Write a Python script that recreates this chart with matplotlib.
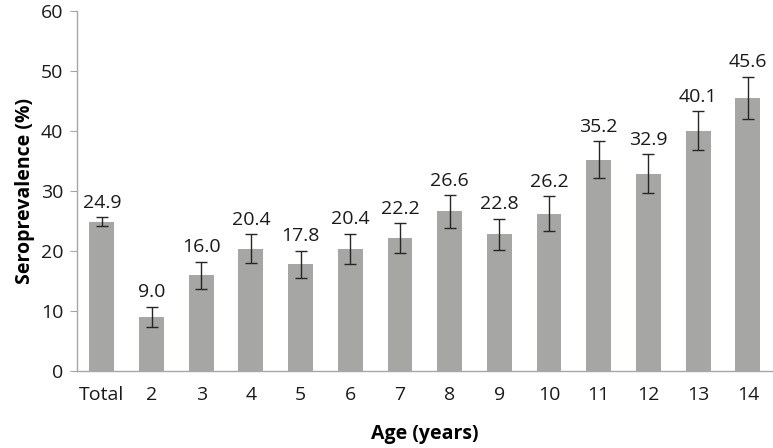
import numpy as np
import matplotlib.pyplot as plt

plt.rcParams['font.family'] = ['Open Sans', 'DejaVu Sans']

# data
labels = ['Total', '2', '3', '4', '5', '6', '7', '8', '9', '10', '11', '12', '13', '14']
values = [24.9, 9.0, 16.0, 20.4, 17.8, 20.4, 22.2, 26.6, 22.8, 26.2, 35.2, 32.9, 40.1, 45.6]
errors = [0.75, 1.7, 2.25, 2.4, 2.25, 2.5, 2.45, 2.7, 2.55, 2.9, 3.1, 3.2, 3.2, 3.5]

fig = plt.figure(figsize=(7.73, 4.48), dpi=100)
ax = fig.add_axes([0.0996, 0.172, 0.9, 0.803])

x = np.arange(len(labels))
ax.bar(x, values, width=0.5, color='#A6A6A4',
       yerr=errors, error_kw=dict(ecolor='#262626', elinewidth=1.0, capsize=4, capthick=1.0))

for xi, v, e in zip(x, values, errors):
    ax.annotate(f'{v:.1f}', (xi, v + e), xytext=(0, 4), textcoords='offset points',
                ha='center', va='bottom', fontsize=14, color='#1a1a1a')

ax.set_xlim(-0.5, len(labels) - 0.5)
ax.set_ylim(0, 60)
ax.set_yticks(range(0, 61, 10))
ax.set_xticks(x)
ax.set_xticklabels(labels)

for s in ['top', 'right']:
    ax.spines[s].set_visible(False)
for s in ['left', 'bottom']:
    ax.spines[s].set_color('#A6A6A6')
    ax.spines[s].set_linewidth(1.0)

ax.tick_params(axis='y', direction='out', length=5, color='#A6A6A6', labelsize=14, labelcolor='#1a1a1a', pad=5)
ax.tick_params(axis='x', length=0, labelsize=14, labelcolor='#1a1a1a', pad=11)

ax.set_ylabel('Seroprevalence (%)', fontsize=14, fontweight='bold', labelpad=4)
ax.set_xlabel('Age (years)', fontsize=14, fontweight='bold', labelpad=14)

fig.savefig('out.png', dpi=100)
